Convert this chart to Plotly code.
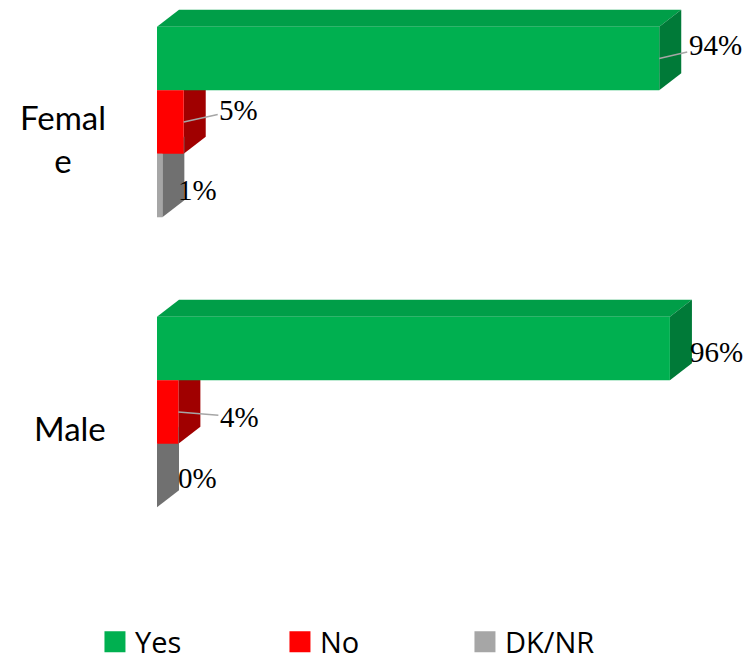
import plotly.graph_objects as go

# ---------------- data ----------------
categories = ["Female", "Male"]
category_labels = ["Femal<br>e", "Male"]
series_names = ["Yes", "No", "DK/NR"]
yes_values = [94, 96]
no_values = [5, 4]
dknr_values = [1, 0]
series_values = [yes_values, no_values, dknr_values]

# ---------------- style ----------------
front_colors = ["#00B050", "#FF0000", "#A6A6A6"]
top_colors = ["#009E48", "#C00000", "#8C8C8C"]
side_colors = ["#007A38", "#A00000", "#707070"]
SERIF = "Liberation Serif, Times New Roman, DejaVu Serif, serif"

PAGE_OFF = 8  # default page body margin
W, H = 753 - PAGE_OFF, 661 - PAGE_OFF
M_L, M_T, M_B = 157 - PAGE_OFF, 0, 101
X_MAX = 105
px_per_x = 5.34
plot_w = X_MAX * px_per_x
M_R = W - M_L - plot_w
plot_h = H - M_T - M_B
BARGAP = 0.343
n_series = len(series_names)
bw = (1 - BARGAP) / n_series
px_per_y = 290.0
first_center_px = 122.0 - PAGE_OFF
y_top = -first_center_px / px_per_y
y_bot = y_top + plot_h / px_per_y

DEPTH_DX = 22 / px_per_x
DEPTH_DY = 17 / px_per_y

# label offsets (px) relative to bar end, per series per category
label_offsets = [[(56, -13), (47, 4)], [(55, -12), (61, 5)], [(35, 4), (40, 2)]]
leader = [[True, False], [True, True], [False, False]]

yidx = list(range(len(categories)))

fig = go.Figure()
for s in range(n_series):
    fig.add_trace(go.Bar(
        y=yidx, x=series_values[s], orientation="h", name=series_names[s],
        marker=dict(color=front_colors[s], line=dict(width=0)),
        showlegend=False, hoverinfo="skip",
    ))

shapes = []
annotations = []
for s in range(n_series):
    for c, cat_y in enumerate(yidx):
        v = series_values[s][c]
        center = cat_y + (s - (n_series - 1) / 2) * bw
        top = center - bw / 2
        bot = center + bw / 2
        # top face
        shapes.append(dict(
            type="path", xref="x", yref="y", layer="below",
            path=f"M0,{top} L{v},{top} L{v + DEPTH_DX},{top - DEPTH_DY} L{DEPTH_DX},{top - DEPTH_DY} Z",
            fillcolor=top_colors[s], line=dict(width=0)))
        # side face
        shapes.append(dict(
            type="path", xref="x", yref="y", layer="below",
            path=f"M{v},{top} L{v + DEPTH_DX},{top - DEPTH_DY} L{v + DEPTH_DX},{bot - DEPTH_DY} L{v},{bot} Z",
            fillcolor=side_colors[s], line=dict(width=0)))
        ox, oy = label_offsets[s][c]
        txt = f"{v}%"
        lab_font = dict(family=SERIF, size=29, color="#000000")
        if leader[s][c]:
            annotations.append(dict(
                x=v, y=center, xref="x", yref="y", text=txt,
                showarrow=True, arrowhead=0, arrowwidth=1.5, arrowcolor="#A6A6A6",
                ax=ox, ay=oy, standoff=0, startstandoff=0, font=lab_font))
        else:
            annotations.append(dict(
                x=v, y=center, xref="x", yref="y", text=txt, showarrow=False,
                xshift=ox, yshift=-oy, font=lab_font))

for c, cat_y in enumerate(yidx):
    annotations.append(dict(
        x=0, y=cat_y, xref="x", yref="y", text=category_labels[c], showarrow=False,
        xanchor="right", align="center", xshift=-49, yshift=-16,
        font=dict(family="Lato", size=33, color="#000000")))

# legend entries
for s in range(n_series):
    fig.add_trace(go.Scatter(
        x=[None], y=[None], mode="markers", name=series_names[s],
        marker=dict(symbol="square", size=16, color=front_colors[s],
                    line=dict(width=5, color=front_colors[s])),
        hoverinfo="skip"))

fig.update_layout(
    width=W, height=H,
    margin=dict(l=M_L, r=M_R, t=M_T, b=M_B, autoexpand=False),
    paper_bgcolor="white", plot_bgcolor="white",
    barmode="group", bargap=BARGAP, bargroupgap=0,
    xaxis=dict(range=[0, X_MAX], visible=False, showgrid=False, zeroline=False),
    yaxis=dict(range=[y_bot, y_top], visible=False, showgrid=False, zeroline=False),
    shapes=shapes, annotations=annotations,
    showlegend=True,
    legend=dict(orientation="h", x=(87 - M_L) / plot_w, xanchor="left",
                y=-(642 - PAGE_OFF - plot_h) / plot_h, yanchor="middle",
                entrywidth=140, font=dict(family="Open Sans", size=29, color="#000000"),
                itemsizing="trace"),
)

fig.write_html("out.html")
